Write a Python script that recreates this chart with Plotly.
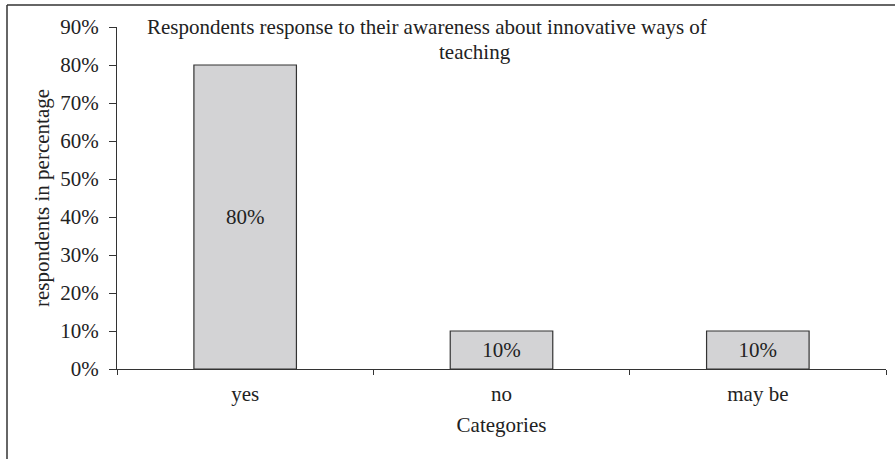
import plotly.graph_objects as go

categories = ["yes", "no", "may be"]
values = [0.80, 0.10, 0.10]
labels = ["80%", "10%", "10%"]
tick_vals = [0, 0.1, 0.2, 0.3, 0.4, 0.5, 0.6, 0.7, 0.8, 0.9]
tick_text = ["0%", "10%", "20%", "30%", "40%", "50%", "60%", "70%", "80%", "90%"]
title_line1 = "Respondents response to their awareness about innovative ways of"
title_line2 = "teaching"

FONT = "Liberation Serif, Times New Roman, serif"
TXT = "#222222"
FS = 21

W, H = 895, 459
ML, MR, MT, MB = 117, 9, 27, 90
PW, PH = W - ML - MR, H - MT - MB

def px_x(x):
    return (x - ML) / PW

def px_y(y):
    return (H - MB - y) / PH

fig = go.Figure()
fig.add_trace(go.Bar(
    x=categories, y=values, text=labels,
    textposition="inside", insidetextanchor="middle", textangle=0,
    textfont=dict(family=FONT, size=FS, color=TXT),
    marker=dict(color="#d3d3d5", line=dict(color="#333333", width=1.2)),
    width=0.4, hoverinfo="skip",
))

fig.update_layout(
    width=W, height=H,
    margin=dict(l=ML, r=MR, t=MT, b=MB),
    paper_bgcolor="white", plot_bgcolor="white",
    showlegend=False,
    font=dict(family=FONT, size=FS, color=TXT),
    uniformtext=dict(minsize=FS, mode="show"),
)
fig.update_xaxes(
    showline=True, linecolor="#333333", linewidth=1.2,
    ticks="outside", ticklen=5, tickcolor="#333333", tickwidth=1.2,
    tickson="boundaries", showgrid=False, ticklabelstandoff=6,
    title=dict(text="Categories", standoff=12, font=dict(family=FONT, size=FS, color=TXT)),
    tickfont=dict(family=FONT, size=FS, color=TXT),
)
fig.update_yaxes(
    range=[0, 0.9], showline=True, linecolor="#333333", linewidth=1.2,
    ticks="outside", ticklen=7, tickcolor="#333333", tickwidth=1.2,
    tickvals=tick_vals, ticktext=tick_text, showgrid=False, zeroline=False,
    ticklabelstandoff=6,
    title=dict(text="respondents in percentage", standoff=4, font=dict(family=FONT, size=FS, color=TXT)),
    tickfont=dict(family=FONT, size=FS, color=TXT),
)

# outer frame (left and top edges visible)
fig.add_shape(type="line", xref="paper", yref="paper",
              x0=px_x(7), x1=px_x(7), y0=px_y(5), y1=px_y(470),
              line=dict(color="#333333", width=1.5))
fig.add_shape(type="line", xref="paper", yref="paper",
              x0=px_x(7), x1=px_x(905), y0=px_y(5), y1=px_y(5),
              line=dict(color="#333333", width=1.5))

fig.add_annotation(text=title_line1, xref="paper", yref="paper",
                   x=px_x(145), y=px_y(27), xanchor="left", yanchor="middle",
                   showarrow=False, font=dict(family=FONT, size=FS, color=TXT))
fig.add_annotation(text=title_line2, xref="paper", yref="paper",
                   x=px_x(437), y=px_y(52), xanchor="left", yanchor="middle",
                   showarrow=False, font=dict(family=FONT, size=FS, color=TXT))

fig.write_html("out.html", config={"displayModeBar": False},
               post_script="document.body.style.margin='0';document.body.style.overflow='hidden';")
